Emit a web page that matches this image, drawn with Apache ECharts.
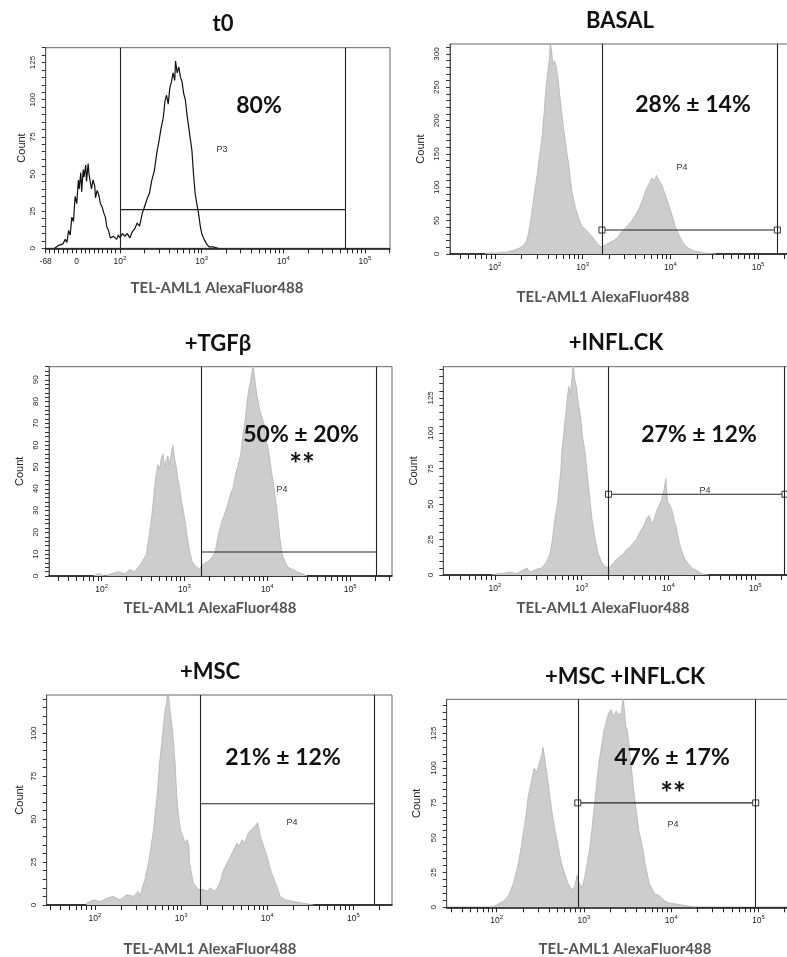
<!DOCTYPE html>
<html>
<head>
<meta charset="utf-8">
<script src="https://cdn.jsdelivr.net/npm/echarts@6/dist/echarts.min.js"></script>
<style>
  html, body { margin: 0; padding: 0; background: #fff; }
  #chart { width: 787px; height: 957px; }
</style>
</head>
<body>
<div id="chart"></div>
<script>
// ---- Histogram data: [position on display scale (decades), event count] ----
const t0Hist = [[1.20,0],[1.22,1],[1.25,2],[1.27,1],[1.30,3],[1.33,6],[1.35,4],[1.37,12],[1.39,9],[1.41,21],[1.43,18],[1.45,35],[1.47,30],[1.49,46],[1.50,40],[1.52,51],[1.53,38],[1.55,53],[1.56,48],[1.58,56],[1.59,45],[1.61,57],[1.62,50],[1.64,49],[1.65,40],[1.67,46],[1.69,42],[1.70,34],[1.72,39],[1.74,36],[1.76,30],[1.78,28],[1.80,24],[1.82,21],[1.84,14],[1.86,12],[1.88,7],[1.90,6],[1.92,8],[1.94,7],[1.96,6],[1.98,9],[2.00,7],[2.03,10],[2.06,8],[2.09,10],[2.12,7],[2.15,11],[2.18,13],[2.21,17],[2.24,15],[2.27,23],[2.30,28],[2.33,33],[2.36,37],[2.39,46],[2.42,52],[2.45,64],[2.48,73],[2.50,80],[2.53,88],[2.55,99],[2.57,103],[2.59,97],[2.61,108],[2.63,112],[2.65,118],[2.67,113],[2.68,126],[2.70,118],[2.72,122],[2.74,115],[2.76,112],[2.78,104],[2.80,100],[2.82,90],[2.84,82],[2.86,74],[2.88,66],[2.90,50],[2.92,37],[2.94,30],[2.96,24],[2.98,16],[3.00,10],[3.03,6],[3.06,3],[3.09,1],[3.14,1],[3.20,0]];

const basalHist = [[1.88,0],[1.92,1],[1.96,2],[2.00,1],[2.04,2],[2.08,3],[2.12,2],[2.16,4],[2.20,5],[2.24,7],[2.28,9],[2.32,12],[2.36,20],[2.38,30],[2.40,45],[2.42,62],[2.44,82],[2.46,100],[2.48,118],[2.50,140],[2.52,158],[2.54,180],[2.56,212],[2.58,248],[2.60,270],[2.62,292],[2.63,318],[2.65,300],[2.66,284],[2.68,290],[2.70,280],[2.72,262],[2.74,236],[2.76,214],[2.78,190],[2.80,172],[2.82,150],[2.84,136],[2.86,112],[2.88,92],[2.90,80],[2.92,68],[2.94,60],[2.96,52],[2.98,45],[3.00,41],[3.04,36],[3.08,30],[3.12,24],[3.16,17],[3.20,11],[3.24,12],[3.28,15],[3.32,18],[3.36,21],[3.40,25],[3.44,33],[3.48,38],[3.52,44],[3.56,50],[3.60,58],[3.64,67],[3.68,80],[3.72,96],[3.76,106],[3.79,114],[3.82,110],[3.84,118],[3.86,113],[3.90,104],[3.94,90],[3.98,74],[4.02,58],[4.06,40],[4.10,28],[4.14,18],[4.18,11],[4.22,8],[4.26,5],[4.30,4],[4.34,3],[4.38,2],[4.44,1],[4.52,0]];

const tgfHist = [[1.90,0],[1.96,1],[2.04,0],[2.12,1],[2.20,2],[2.28,1],[2.34,3],[2.40,2],[2.44,4],[2.48,6],[2.51,8],[2.54,10],[2.57,18],[2.60,26],[2.62,33],[2.64,41],[2.66,47],[2.68,51],[2.70,49],[2.72,54],[2.74,56],[2.76,50],[2.78,53],[2.80,55],[2.82,51],[2.84,56],[2.86,60],[2.88,54],[2.90,50],[2.92,45],[2.95,38],[2.97,33],[2.99,29],[3.02,22],[3.04,16],[3.07,10],[3.09,7],[3.12,5],[3.15,4],[3.18,3],[3.21,5],[3.25,6],[3.30,7],[3.34,9],[3.37,11],[3.40,17],[3.43,22],[3.46,26],[3.50,30],[3.53,34],[3.56,38],[3.59,41],[3.62,47],[3.65,51],[3.68,56],[3.70,63],[3.73,71],[3.75,78],[3.77,84],[3.79,88],[3.81,92],[3.83,97],[3.85,90],[3.87,84],[3.89,80],[3.91,76],[3.94,72],[3.96,70],[3.98,63],[4.00,60],[4.02,56],[4.05,48],[4.08,41],[4.10,35],[4.13,26],[4.15,18],[4.18,10],[4.21,7],[4.25,4],[4.30,3],[4.36,2],[4.42,1],[4.48,0]];

const inflHist = [[1.96,0],[2.04,1],[2.10,1],[2.17,2],[2.25,1],[2.31,3],[2.37,5],[2.40,2],[2.48,4],[2.54,5],[2.58,8],[2.61,11],[2.635,15],[2.66,24],[2.69,39],[2.72,50],[2.74,62],[2.76,74],[2.77,86],[2.79,98],[2.81,110],[2.83,122],[2.85,133],[2.87,128],[2.89,140],[2.90,150],[2.92,138],[2.94,133],[2.96,122],[2.99,110],[3.01,98],[3.04,86],[3.06,74],[3.08,62],[3.10,50],[3.12,39],[3.15,27],[3.19,15],[3.23,9],[3.27,6],[3.31,5],[3.35,7],[3.40,11],[3.44,13],[3.48,15],[3.52,18],[3.56,20],[3.60,23],[3.63,25],[3.67,30],[3.71,34],[3.75,40],[3.78,42],[3.81,36],[3.83,38],[3.87,46],[3.90,50],[3.92,53],[3.95,60],[3.97,68],[3.99,52],[4.01,50],[4.04,46],[4.07,38],[4.09,34],[4.12,24],[4.15,18],[4.19,11],[4.23,8],[4.27,5],[4.33,3],[4.38,1],[4.46,0]];

const mscHist = [[1.90,1],[1.98,3],[2.06,2],[2.14,4],[2.21,5],[2.29,3],[2.37,6],[2.45,5],[2.50,8],[2.52,5],[2.55,10],[2.58,15],[2.62,24],[2.65,34],[2.68,44],[2.70,54],[2.72,63],[2.75,83],[2.77,92],[2.79,102],[2.81,112],[2.83,118],[2.85,125],[2.87,114],[2.88,110],[2.90,102],[2.93,83],[2.95,63],[2.97,52],[2.99,44],[3.02,40],[3.05,36],[3.07,38],[3.09,34],[3.10,24],[3.14,13],[3.17,11],[3.20,9],[3.26,9],[3.30,8],[3.34,10],[3.38,8],[3.41,9],[3.45,13],[3.49,20],[3.53,24],[3.57,28],[3.61,32],[3.65,36],[3.67,34],[3.71,38],[3.74,36],[3.78,42],[3.82,44],[3.86,46],[3.89,48],[3.92,40],[3.96,34],[4.00,28],[4.03,22],[4.07,16],[4.11,11],[4.15,5],[4.21,3],[4.31,2],[4.42,1],[4.54,0]];

const mscInflHist = [[1.92,0],[1.98,1],[2.04,3],[2.09,5],[2.13,8],[2.16,12],[2.19,17],[2.22,24],[2.25,32],[2.28,43],[2.31,55],[2.34,68],[2.36,79],[2.38,85],[2.40,91],[2.43,100],[2.46,97],[2.49,104],[2.52,110],[2.53,115],[2.55,108],[2.56,103],[2.59,90],[2.61,79],[2.64,66],[2.67,55],[2.71,42],[2.74,32],[2.78,24],[2.82,17],[2.87,12],[2.90,16],[2.92,23],[2.94,18],[2.98,14],[3.01,22],[3.04,32],[3.07,44],[3.09,55],[3.13,79],[3.17,103],[3.20,115],[3.23,127],[3.26,134],[3.28,139],[3.31,142],[3.34,137],[3.37,141],[3.40,138],[3.43,140],[3.45,152],[3.48,130],[3.50,127],[3.54,103],[3.58,79],[3.63,55],[3.67,44],[3.70,32],[3.75,17],[3.81,10],[3.87,8],[3.92,5],[3.98,3],[4.09,2],[4.19,1],[4.28,0]];

// ---- Panel texts ----
const panelTitles = ['t0', 'BASAL', '+TGFβ', '+INFL.CK', '+MSC', '+MSC +INFL.CK'];
const gateResults = ['80%', '28% ± 14%', '50% ± 20%', '27% ± 12%', '21% ± 12%', '47% ± 17%'];
const significance = ['', '', '**', '', '', '**'];
const gateNames = ['P3', 'P4', 'P4', 'P4', 'P4', 'P4'];
const xAxisTitle = 'TEL-AML1 AlexaFluor488';
const yAxisTitle = 'Count';

// ---- Gates: left / right bounds (decades) and marker level (count) ----
const gateLeft = [2.0, 3.22, 3.20, 3.31, 3.22, 2.93];
const gateRight = [4.76, 5.22, 5.32, 5.345, 5.24, 4.97];
const gateLevel = [26, 36, 11, 57, 59, 75];
const gateHandles = [false, true, false, true, false, true];

// ---- Tick labels ----
const decadeExponents = ['2', '3', '4', '5'];
const t0LowLabels = ['-68', '0'];
const countLabels = [
  [0, 25, 50, 75, 100, 125],
  [0, 50, 100, 150, 200, 250, 300],
  [0, 10, 20, 30, 40, 50, 60, 70, 80, 90],
  [0, 25, 50, 75, 100, 125],
  [0, 25, 50, 75, 100],
  [0, 25, 50, 75, 100, 125]
];

const histograms = [t0Hist, basalHist, tgfHist, inflHist, mscHist, mscInflHist];

// ---- Layout of each plot frame (px) and its axis extents ----
const layout = [
  { left: 45.7, top: 47.7, width: 344.3, height: 200.6, xMin: 1.09, xMax: 5.306, yMax: 135, yMinor: 5, nameGap: 16,
    title: [223, 24], result: [259, 106], stars: null, gname: [222, 150], xtitle: [217, 288] },
  { left: 450, top: 44, width: 342, height: 210, xMin: 1.487, xMax: 5.387, yMax: 315, yMinor: 10, nameGap: 24,
    title: [620, 21], result: [693, 105], stars: null, gname: [682, 168], xtitle: [603, 297] },
  { left: 49, top: 366.7, width: 343, height: 209.3, xMin: 1.364, xMax: 5.506, yMax: 96, yMinor: 2, nameGap: 24,
    title: [218, 344], result: [301, 435], stars: [302, 465], gname: [282, 490], xtitle: [210, 608] },
  { left: 443.3, top: 366.7, width: 348.7, height: 208.3, xMin: 1.404, xMax: 5.426, yMax: 147, yMinor: 5, nameGap: 24,
    title: [616, 343], result: [699, 435], stars: null, gname: [705, 491], xtitle: [603, 608] },
  { left: 46.7, top: 695, width: 345.3, height: 210, xMin: 1.439, xMax: 5.449, yMax: 122.3, yMinor: 5, nameGap: 21,
    title: [210, 672], result: [283, 758], stars: null, gname: [292, 823], xtitle: [210, 949] },
  { left: 446.7, top: 699.3, width: 345.3, height: 208, xMin: 1.427, xMax: 5.386, yMax: 149.4, yMinor: 5, nameGap: 24,
    title: [625, 677], result: [672, 758], stars: [673, 794], gname: [673, 825], xtitle: [625, 949] }
];

// t0 uses a biexponential scale: linear below 10^2, logarithmic above
const T0_MIN = 1.09, T0_ZERO = 1.469;

function decadeTicks(min, max) {
  const out = [];
  for (let n = 1; n <= 5; n++) {
    for (let k = 1; k <= 9; k++) {
      const v = n + Math.log10(k);
      if (v >= min - 1e-9 && v <= max + 1e-9) out.push(v);
    }
  }
  return out;
}

function t0Ticks() {
  const out = [T0_MIN];
  for (let v = -60; v < 100; v += 10) {
    out.push(v < 0 ? T0_ZERO + v * (T0_ZERO - T0_MIN) / 68 : T0_ZERO + v * (2 - T0_ZERO) / 100);
  }
  return out.concat(decadeTicks(2, 5.306));
}

const grids = [], xAxes = [], yAxes = [], series = [], graphics = [];
const boldFont = 'Lato, "Open Sans", sans-serif';
const plainFont = '"Liberation Sans", Arial, sans-serif';

layout.forEach((L, i) => {
  grids.push({
    left: L.left, top: L.top, width: L.width, height: L.height,
    show: true, borderColor: '#666', borderWidth: 1, backgroundColor: 'transparent',
    containLabel: false, outerBoundsMode: 'none'
  });

  const isT0 = i === 0;
  const labelPos = isT0 ? [T0_MIN, T0_ZERO, 2, 3, 4, 5] : [2, 3, 4, 5];
  xAxes.push({
    type: 'value', gridIndex: i, min: L.xMin, max: L.xMax,
    axisLine: { show: true, onZero: false, lineStyle: { color: '#111', width: 1.5 } },
    axisTick: { show: true, inside: false, length: 5, lineStyle: { color: '#222', width: 1 },
      customValues: isT0 ? t0Ticks() : decadeTicks(L.xMin, L.xMax) },
    axisLabel: {
      show: true, customValues: labelPos, margin: 7, color: '#222', fontFamily: plainFont, fontSize: 8,
      formatter: (v) => {
        if (isT0 && Math.abs(v - T0_MIN) < 1e-6) return '{b|' + t0LowLabels[0] + '}';
        if (isT0 && Math.abs(v - T0_ZERO) < 1e-6) return '{b|' + t0LowLabels[1] + '}';
        const idx = Math.round(v) - 2;
        return '{b|10}{s|' + decadeExponents[idx] + '}';
      },
      rich: {
        b: { fontSize: 8.5, lineHeight: 11, verticalAlign: 'bottom', color: '#222', fontFamily: plainFont },
        s: { fontSize: 6, lineHeight: 8, verticalAlign: 'top', color: '#222', fontFamily: plainFont }
      }
    },
    splitLine: { show: false }
  });

  const yTicks = [];
  for (let v = 0; v <= L.yMax + 1e-9; v += L.yMinor) yTicks.push(v);
  yAxes.push({
    type: 'value', gridIndex: i, min: 0, max: L.yMax,
    name: yAxisTitle, nameLocation: 'middle', nameGap: L.nameGap,
    nameTextStyle: { fontFamily: plainFont, fontSize: 11, color: '#222' },
    axisLine: { show: true, lineStyle: { color: '#555', width: 1 } },
    axisTick: { show: true, inside: false, length: 4, lineStyle: { color: '#333', width: 1 }, customValues: yTicks },
    axisLabel: { show: true, customValues: countLabels[i], rotate: 90, margin: 9, fontSize: 8,
      fontFamily: plainFont, color: '#222' },
    splitLine: { show: false }
  });

  // histogram
  series.push({
    type: 'line', xAxisIndex: i, yAxisIndex: i, data: histograms[i],
    symbol: 'none', showSymbol: false, clip: true, silent: true, z: 2,
    lineStyle: isT0 ? { color: '#111', width: 1.2 } : { color: '#b4b4b4', width: 0.8 },
    areaStyle: isT0 ? undefined : { color: '#cdcdcd', opacity: 1 },
    markLine: {
      silent: true, symbol: ['none', 'none'], animation: false,
      label: { show: false },
      lineStyle: { color: '#222', width: 1.1, type: 'solid' },
      data: [{ xAxis: gateLeft[i] }, { xAxis: gateRight[i] }]
    }
  });

  // gate marker line
  series.push({
    type: 'line', xAxisIndex: i, yAxisIndex: i, silent: true, z: 3,
    data: [[gateLeft[i], gateLevel[i]], [gateRight[i], gateLevel[i]]],
    symbol: gateHandles[i] ? 'rect' : 'none', symbolSize: 6, showSymbol: gateHandles[i],
    itemStyle: { color: '#fff', borderColor: '#333', borderWidth: 1 },
    lineStyle: { color: '#222', width: 1.1 }
  });

  const txt = (pos, text, size, weight, family, fill) => ({
    type: 'text', x: pos[0], y: pos[1], z: 10, silent: true,
    style: { text, fontSize: size, fontWeight: weight, fontFamily: family, fill,
      align: 'center', verticalAlign: 'middle', textAlign: 'center', textVerticalAlign: 'middle' }
  });
  graphics.push(txt(L.title, panelTitles[i], 22, 'bold', boldFont, '#111'));
  graphics.push(txt(L.result, gateResults[i], 23, 'bold', boldFont, '#111'));
  if (L.stars) graphics.push(txt(L.stars, significance[i], 30, 'bold', boldFont, '#111'));
  graphics.push(txt(L.gname, gateNames[i], 9, 'normal', plainFont, '#333'));
  graphics.push(txt(L.xtitle, xAxisTitle, 15, 'bold', boldFont, '#555'));
});

const chart = echarts.init(document.getElementById('chart'), null, { renderer: 'canvas' });
chart.setOption({
  animation: false,
  backgroundColor: '#fff',
  grid: grids,
  xAxis: xAxes,
  yAxis: yAxes,
  series: series,
  graphic: { elements: graphics }
});
</script>
</body>
</html>
